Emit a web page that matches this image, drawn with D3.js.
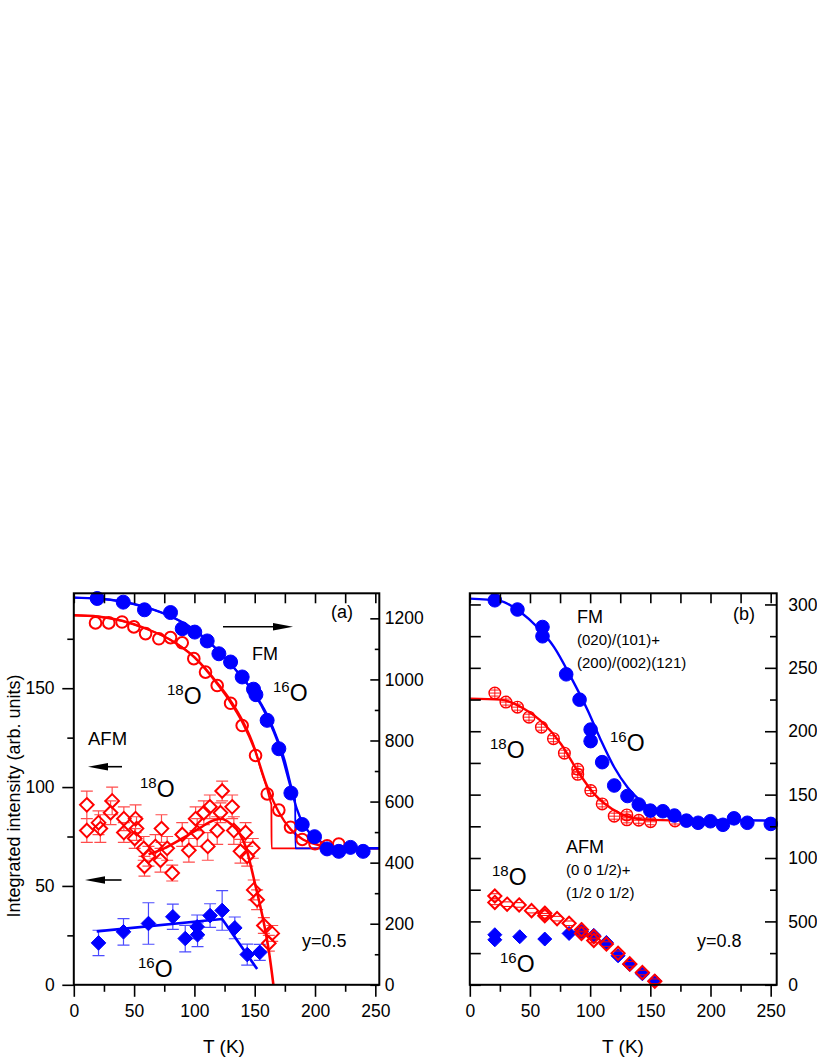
<!DOCTYPE html>
<html><head><meta charset="utf-8">
<script src="https://cdn.jsdelivr.net/npm/d3@7"></script>
<style>body{margin:0;background:#fff} svg{display:block} text{font-family:"Liberation Sans",Arial,sans-serif}</style>
</head><body><svg id="c" width="817" height="1058"></svg>
<script>
// ---------- Panel (a): FM (right axis) ----------
const fmA16_T = [19.4, 41, 58.6, 80.2, 89.9, 100.3, 110.6, 120.3, 130, 139.6, 149, 151, 160.3, 170, 180, 189.4, 199.6, 210, 219.7, 229.4, 239.9];
const fmA16_I = [1265, 1253, 1228, 1219, 1166, 1155, 1126, 1084, 1057, 1008, 968, 950, 866, 773, 628, 525, 485, 445, 437, 450, 437];
const fmA18_T = [18, 29, 40, 49.8, 59.5, 70.5, 80.2, 89.9, 99.5, 109.2, 118.9, 130, 139.6, 150.7, 160.4, 170, 179.7, 189.4, 200, 210, 219.7];
const fmA18_I = [1185, 1185, 1188, 1172, 1150, 1133, 1137, 1120, 1068, 1024, 980, 922, 849, 751, 625, 572, 516, 476, 462, 455, 461];
const fitA16_smooth = [[0,1268],[20,1265],[40,1255],[60,1236],[80,1207],[100,1162],[120,1093],[140,1004],[150,952],[160,880],[170,785],[180,645],[185,575],[190,528],[195,500],[200,482],[210,458],[220,449],[235,447],[253,447]];
const fitA16_sharp  = [[0,1268],[20,1265],[40,1255],[60,1236],[80,1207],[100,1162],[120,1093],[140,1006],[150,955],[160,888],[170,795],[175,735],[181,640],[183.5,605],[183.8,447],[253,447]];
const fitA18_smooth = [[0,1210],[20,1206],[40,1192],[60,1166],[80,1130],[100,1072],[120,980],[130,925],[140,858],[150,770],[160,652],[170,565],[180,508],[190,476],[200,461],[210,452],[225,448],[253,447]];
const fitA18_sharp  = [[0,1210],[20,1206],[40,1192],[60,1166],[80,1130],[100,1074],[120,985],[130,932],[140,866],[150,775],[155,705],[160,645],[163,600],[163.8,590],[164,447],[253,447]];
// ---------- Panel (a): AFM (left axis) ----------
const afmA18_T = [10.8,10.8,20.5,22,30.5,31.8,41.5,41.5,51.2,52,50.5,58,58.6,61.9,67.7,71.9,72.7,77.4,81.6,89.9,95.4,101,102.3,107.8,111.1,112.8,118.9,121.6,123,131.3,132.7,138.2,142.4,143.8,148.4,149.2,152,157.6,161.7,164.5];
const afmA18_I = [91,78,82,79,87,93,84,77,84,79,74,69,60,65,70,63,79,69,56.5,76,68,84,77,87,70,90,78,87,98,90,78,67.5,77,65,69,48,43,30,21,26];
const afmA18_E = [7,6,6,7,6,7,6,5,7,6,5,6,5,5,6,6,7,6,4,6,6,6,7,6,7,6,7,5,5,6,7,6,5,5,5,5,5,4,4,4];
const afmA16_T = [20.5, 41.2, 61.9, 82.1, 92.4, 102.3, 102.6, 113, 123, 133.5, 143.8, 154.2];
const afmA16_I = [21.2, 26.8, 31, 34.4, 23.4, 29.3, 25.3, 35, 37.6, 28.8, 15.3, 16.4];
const afmA16_E = [6.4, 6.7, 10.5, 6.4, 6.7, 6, 6, 6, 10, 5.5, 5.3, 4];
const fitAfmA18 = [[62,66],[75,69],[90,74],[105,79.5],[115,83],[122,84],[130,81.5],[138,76],[143,69],[148,57],[153,44],[158,30],[162,16],[165.5,0]];
const fitAfmA16 = [[19,27],[123,33.3],[152,8]];
// ---------- Panel (b) ----------
const fmB16_T = [20.8, 39.6, 60.4, 60.4, 80.1, 91.2, 100.4, 100.4, 110, 120, 131, 140.4, 150, 160.4, 170, 180, 189.7, 199.9, 210.3, 219.5, 230.6, 250.1];
const fmB16_I = [3033, 2960, 2822, 2749, 2449, 2249, 2013, 1922, 1756, 1572, 1489, 1422, 1374, 1369, 1335, 1295, 1278, 1290, 1262, 1313, 1278, 1269];
const fmB18_T = [20.8, 30, 39.6, 49.2, 59.5, 69.5, 78.6, 89.7, 89.7, 100.5, 110, 120, 130.5, 130.5, 140.4, 150.2, 170.5];
const fmB18_I = [2301, 2230, 2190, 2111, 2032, 1941, 1827, 1700, 1660, 1532, 1427, 1330, 1340, 1301, 1298, 1286, 1292];
const fitB16 = [[0,3046],[25,3028],[42,2941],[56,2822],[70,2664],[84,2427],[98,2164],[109,1927],[120,1716],[131,1558],[145,1427],[158.6,1348],[186,1301],[255,1295]];
const fitB18 = [[0,2257],[25.7,2249],[45,2178],[61.6,2059],[75.6,1901],[89.4,1690],[103.3,1506],[111.6,1432],[125.6,1348],[145,1303],[180,1295]];
const afmB18_T = [20.8,20.8,31,41,51.3,62.3,62.3,72.5,82.5,92.8,92.8,103,103,113.5,123.2,132.9,143.4,153.7];
const afmB18_I = [700,650,636,630,585,565,545,522,485,435,405,380,350,321,248,165,97,28];
const afmB16_T = [20.8,20.8,41.5,62.3,82.5,92.8,103,113.5,123.2,132.9,143.4,153.7];
const afmB16_I = [395,355,379,361,405,420,390,334,229,160,87,30];
// ---------- ticks ----------
const xTicks = d3.range(0, 251, 25), xLabels = [0,50,100,150,200,250];
const aLeftTicks = d3.range(0, 176, 25), aLeftLabels = [0,50,100,150];
const aRightTicks = d3.range(0, 1201, 100), aRightLabels = [0,200,400,600,800,1000,1200];
const bRightTicks = d3.range(0, 3001, 250), bRightLabels = [0,500,1000,1500,2000,2500,3000];

const BLUE = "#0000ff", RED = "#ff0000", FONT = '"Liberation Sans", Arial, sans-serif';
const svg = d3.select("#c");
svg.append("rect").attr("width",817).attr("height",1058).attr("fill","#fff");

const aX = d3.scaleLinear().domain([0,253.3]).range([73.8,379.3]);
const aYL = d3.scaleLinear().domain([0,198]).range([984.8,593.3]);
const aYR = d3.scaleLinear().domain([0,1282]).range([984.8,593.3]);
const bX = d3.scaleLinear().domain([0,255]).range([469.8,776.7]);
const bY = d3.scaleLinear().domain([0,3088]).range([984.8,593.3]);

const defs = svg.append("defs");
function clip(id, x) {
  defs.append("clipPath").attr("id", id).append("rect")
    .attr("x", x.range()[0]).attr("y", 593.3).attr("width", x.range()[1]-x.range()[0]).attr("height", 984.8-593.3);
}
clip("ca", aX); clip("cb", bX);

function axis(gen, scale, vals, size, labels, pad, tx, ty, w) {
  const a = gen(scale).tickValues(vals).tickSize(size).tickPadding(pad || 0)
    .tickFormat(labels ? d3.format("d") : () => "");
  const g = svg.append("g").attr("transform", `translate(${tx},${ty})`).call(a);
  g.select(".domain").remove();
  g.selectAll("line").attr("stroke", "#000").attr("stroke-width", w || 1.6);
  g.selectAll("text").attr("font-size", 17.5).attr("fill", "#000").attr("font-family", FONT);
  return g;
}

function frame(x) {
  const [x0, x1] = x.range();
  axis(d3.axisBottom, x, xTicks.filter(v => v % 50), 7, false, 0, 0, 984.8);
  axis(d3.axisBottom, x, xLabels, 12, true, 8, 0, 984.8);
  axis(d3.axisBottom, x, xTicks, 10, false, 0, 0, 593.3);
  svg.append("rect").attr("x", x0).attr("y", 593.3).attr("width", x1 - x0).attr("height", 984.8 - 593.3)
    .attr("fill", "none").attr("stroke", "#000").attr("stroke-width", 2);
}

const line = (x, y, c) => d3.line().x(d => x(d[0])).y(d => y(d[1])).curve(c || d3.curveMonotoneX);

function drawLine(g, data, x, y, color, w, c) {
  g.append("path").datum(data).attr("d", line(x, y, c)).attr("fill", "none")
    .attr("stroke", color).attr("stroke-width", w).attr("stroke-linejoin", "round");
}
function circles(g, T, I, x, y, r, color, filled) {
  g.selectAll(null).data(T.map((t, i) => [t, I[i]])).join("circle")
    .attr("cx", d => x(d[0])).attr("cy", d => y(d[1])).attr("r", r)
    .attr("fill", filled ? color : "none").attr("stroke", color).attr("stroke-width", filled ? 1 : 2);
}
const diamondPath = h => `M0,${-h}L${h},0L0,${h}L${-h},0Z`;
function diamonds(g, T, I, x, y, h, color, filled, hatch) {
  const s = g.selectAll(null).data(T.map((t, i) => [t, I[i]])).join("g")
    .attr("transform", d => `translate(${x(d[0])},${y(d[1])})`);
  s.append("path").attr("d", diamondPath(h)).attr("fill", filled ? color : "none")
    .attr("stroke", color).attr("stroke-width", filled ? 1 : 2).attr("stroke-linejoin", "miter");
  if (hatch) s.append("path").attr("d", "M-4,-2.3h8M-4,2.3h8").attr("stroke", color).attr("stroke-width", 1);
}
function hatchCircles(g, T, I, x, y, r, color) {
  const s = g.selectAll(null).data(T.map((t, i) => [t, I[i]])).join("g")
    .attr("transform", d => `translate(${x(d[0])},${y(d[1])})`);
  s.append("circle").attr("r", r).attr("fill", "none").attr("stroke", color).attr("stroke-width", 1.4);
  s.append("path").attr("d", `M-4,-3h8M${-r},0h${2*r}M-4,3h8M0,${-r}v${2*r}`).attr("stroke", color).attr("stroke-width", 0.9);
}
function errBars(g, T, I, E, x, y, color, gap) {
  const d = T.map((t, i) => [t, I[i], E[i]]);
  const p = d3.path();
  d.forEach(([t, v, e]) => {
    const cx = x(t), cy = y(v), yt = y(v + e), yb = y(v - e);
    if (cy - yt > gap) { p.moveTo(cx, yt); p.lineTo(cx, cy - gap); p.moveTo(cx, cy + gap); p.lineTo(cx, yb); }
    p.moveTo(cx - 6, yt); p.lineTo(cx + 6, yt); p.moveTo(cx - 6, yb); p.lineTo(cx + 6, yb);
  });
  g.append("path").attr("d", p.toString()).attr("fill", "none").attr("stroke", color)
    .attr("stroke-opacity", 0.7).attr("stroke-width", 1.2);
}
function txt(x, y, s, size, anchor) {
  return svg.append("text").attr("x", x).attr("y", y).attr("font-size", size)
    .attr("font-family", FONT).attr("text-anchor", anchor || "start").attr("fill", "#000").text(s);
}
function iso(x, y, mass) {
  const t = svg.append("text").attr("x", x).attr("y", y).attr("font-family", FONT).attr("fill", "#000");
  t.append("tspan").attr("font-size", 15).attr("dy", -9).text(mass);
  t.append("tspan").attr("font-size", 23).attr("dy", 9).text("O");
}
function arrow(x1, x2, y) {
  const dir = Math.sign(x2 - x1);
  svg.append("line").attr("x1", x1).attr("x2", x2 - dir * 14).attr("y1", y).attr("y2", y)
    .attr("stroke", "#000").attr("stroke-width", 1.6);
  svg.append("path").attr("d", `M${x2},${y}L${x2 - dir * 20},${y - 3.8}L${x2 - dir * 20},${y + 3.8}Z`).attr("fill", "#000");
}

// ===== Panel (a) =====
const ga = svg.append("g").attr("clip-path", "url(#ca)");
drawLine(ga, fitA18_sharp, aX, aYR, RED, 1.8);
drawLine(ga, fitA18_smooth, aX, aYR, RED, 2.4);
drawLine(ga, fitA16_sharp, aX, aYR, BLUE, 1.8);
drawLine(ga, fitA16_smooth, aX, aYR, BLUE, 2.4);
drawLine(ga, fitAfmA18, aX, aYL, RED, 2.6);
drawLine(ga, fitAfmA16, aX, aYL, BLUE, 2.6, d3.curveLinear);
const gam = svg.append("g");
errBars(gam, afmA18_T, afmA18_I, afmA18_E, aX, aYL, RED, 7);
errBars(gam, afmA16_T, afmA16_I, afmA16_E, aX, aYL, BLUE, 5);
circles(gam, fmA18_T, fmA18_I, aX, aYR, 5.8, RED, false);
circles(gam, fmA16_T, fmA16_I, aX, aYR, 7, BLUE, true);
diamonds(gam, afmA18_T, afmA18_I, aX, aYL, 6.8, RED, false, false);
diamonds(gam, afmA16_T, afmA16_I, aX, aYL, 7.3, BLUE, true, false);

frame(aX);
axis(d3.axisLeft, aYL, aLeftTicks.filter(v => v % 50), 6.7, false, 0, 74, 0);
axis(d3.axisLeft, aYL, aLeftLabels, 11.7, true, 7.7, 74, 0);
axis(d3.axisLeft, aYR, aRightTicks.filter(v => v % 200), 4.5, false, 0, 379.3, 0);
axis(d3.axisLeft, aYR, aRightLabels, 9, false, 0, 379.3, 0);
axis(d3.axisRight, aYR, aRightLabels, 0, true, 5.5, 379.3, 0);

svg.append("text").attr("transform", "translate(20,796) rotate(-90)").attr("text-anchor", "middle")
  .attr("font-size", 18).attr("font-family", FONT).text("Integrated intensity (arb. units)");
txt(224, 1053, "T (K)", 19, "middle");
txt(331, 618, "(a)", 18);
txt(252, 660, "FM", 18);
txt(88, 745, "AFM", 18.5);
txt(302, 947, "y=0.5", 18);
iso(273, 701, "16");
iso(167, 704, "18");
iso(140, 797, "18");
iso(138, 977, "16");
arrow(223, 293, 626.7);
arrow(122, 88, 766.7);
arrow(121.5, 85, 880);

// ===== Panel (b) =====
const gb = svg.append("g").attr("clip-path", "url(#cb)");
drawLine(gb, fitB18, bX, bY, RED, 2.4);
drawLine(gb, fitB16, bX, bY, BLUE, 2.4);
const gbm = svg.append("g");
diamonds(gbm, afmB16_T, afmB16_I, bX, bY, 7, BLUE, true, false);
diamonds(gbm, afmB18_T, afmB18_I, bX, bY, 6.6, RED, false, true);
hatchCircles(gbm, fmB18_T, fmB18_I, bX, bY, 5.8, RED);
circles(gbm, fmB16_T, fmB16_I, bX, bY, 6.8, BLUE, true);

frame(bX);
axis(d3.axisRight, bY, bRightTicks, 11, false, 0, 469.8, 0);
axis(d3.axisLeft, bY, bRightTicks.filter(v => v % 500), 6.7, false, 0, 776.7, 0);
axis(d3.axisLeft, bY, bRightLabels, 11.7, false, 0, 776.7, 0);
axis(d3.axisRight, bY, bRightLabels, 0, true, 11.5, 776.7, 0);

txt(623, 1053, "T (K)", 19, "middle");
txt(733, 620, "(b)", 18);
txt(577, 623, "FM", 18);
txt(577, 645, "(020)/(101)+", 15);
txt(577, 668, "(200)/(002)(121)", 15);
txt(566, 853, "AFM", 18);
txt(566, 875, "(0 0 1/2)+", 15);
txt(566, 898, "(1/2 0 1/2)", 15);
txt(697, 947, "y=0.8", 18);
iso(610, 751, "16");
iso(490, 758, "18");
iso(492, 885, "18");
iso(500, 972, "16");
</script></body></html>
